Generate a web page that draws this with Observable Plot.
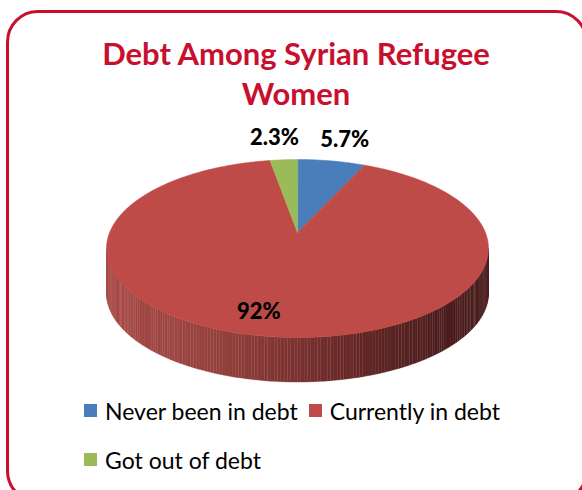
<!DOCTYPE html>
<html>
<head>
<meta charset="utf-8">
<script src="https://cdn.jsdelivr.net/npm/d3@7"></script>
<script src="https://cdn.jsdelivr.net/npm/@observablehq/plot@0.6"></script>
<style>
  html, body { margin: 0; padding: 0; background: #fff; }
  body { width: 582px; height: 490px; position: relative; overflow: hidden; font-family: Lato, "Open Sans", sans-serif; }
  #frame { position: absolute; left: 6px; top: 10px; width: 582px; height: 493px; box-sizing: border-box;
           border: 3px solid #c8102e; border-radius: 32px; }
  #title { position: absolute; left: 0; top: 33px; width: 592px; text-align: center; color: #c8102e;
           font-weight: bold; font-size: 31px; line-height: 40px; }
  #chart { position: absolute; left: 0; top: 120px; }
  #legend { position: absolute; left: 84px; top: 397px; width: 440px; display: flex; flex-wrap: wrap;
            column-gap: 11px; row-gap: 22px; font-size: 23px; color: #000; }
  .item { display: flex; align-items: center; gap: 8px; height: 27px; }
  .sw { width: 13px; height: 13px; display: inline-block; }
</style>
</head>
<body>
<div id="frame"></div>
<div id="title">Debt Among Syrian Refugee<br>Women</div>
<div id="chart"></div>
<div id="legend"></div>
<script>
// ---- data ----
const categories = ["Never been in debt", "Currently in debt", "Got out of debt"];
const shares = [5.7, 92, 2.3];
const labels = ["5.7%", "92%", "2.3%"];
const colors = ["#4a7ebb", "#be4b48", "#9bbb59"];
const legendOrder = ["Never been in debt", "Currently in debt", "Got out of debt"];

// ---- geometry (derived from data via d3.pie) ----
const depth = 0.5;      // side height in ellipse-y units
const apexY = 0.18;     // perspective offset of pie centre
const step = Math.PI / 180;
const arcs = d3.pie().sort(null).value(d => d)(shares);

const faceRows = [];
arcs.forEach((a, i) => {
  faceRows.push({slice: i, X: 0, Y: apexY});
  const n = Math.max(2, Math.ceil((a.endAngle - a.startAngle) / step));
  for (let k = 0; k <= n; k++) {
    const t = a.startAngle + (a.endAngle - a.startAngle) * k / n;
    faceRows.push({slice: i, X: Math.sin(t), Y: Math.cos(t)});
  }
});

const shade = d3.scaleLinear()
  .domain([-1, -0.4, 0.2, 0.7, 1])
  .range(["#a84a47", "#93403c", "#6c2a29", "#4e1e1e", "#4a1c1c"])
  .interpolate(d3.interpolateRgb);

const sideRows = [];
let sid = 0;
arcs.forEach((a, i) => {
  const s = Math.max(a.startAngle, Math.PI / 2), e = Math.min(a.endAngle, 3 * Math.PI / 2);
  if (e <= s) return;
  const n = Math.ceil((e - s) / step);
  for (let k = 0; k < n; k++) {
    const t0 = s + (e - s) * k / n, t1 = s + (e - s) * (k + 1) / n;
    const xm = Math.sin((t0 + t1) / 2);
    const col = i === 1 ? shade(xm) : d3.color(colors[i]).darker(1.2).formatHex();
    [[t0, 0], [t1, 0], [t1, -depth], [t0, -depth]]
      .forEach(([t, d]) => sideRows.push({id: sid, col, X: Math.sin(t), Y: Math.cos(t) + d}));
    sid++;
  }
});

const labelRows = arcs.map((a, i) => {
  const m = (a.startAngle + a.endAngle) / 2;
  const big = (a.endAngle - a.startAngle) > Math.PI;
  const r = big ? 0.72 : 1.24;
  return {text: labels[i], X: Math.sin(m) * r, Y: Math.cos(m) * r, dx: big ? -24 : (Math.sin(m) < 0 ? -6 : 5)};
});

const cx = 297, rx = 191, cy = 128, ry = 89;
const chart = Plot.plot({
  width: 582, height: 280,
  marginTop: 0, marginRight: 0, marginBottom: 0, marginLeft: 0,
  x: {domain: [-1, 1], range: [cx - rx, cx + rx], axis: null},
  y: {domain: [-1, 1], range: [cy + ry, cy - ry], axis: null},
  marks: [
    Plot.line(sideRows, {x: "X", y: "Y", z: "id", fill: "col", stroke: "col", strokeWidth: 0.35, curve: "linear-closed"}),
    Plot.line(faceRows, {x: "X", y: "Y", z: "slice", fill: d => colors[d.slice], stroke: d => colors[d.slice], strokeWidth: 0.5, curve: "linear-closed"}),
    ...labelRows.map(d => Plot.text([d], {x: "X", y: "Y", text: "text", dx: d.dx, fontSize: 22, fontWeight: 900, fill: "#000", fontFamily: "Lato, sans-serif"}))
  ]
});
document.getElementById("chart").appendChild(chart);

// legend
const leg = document.getElementById("legend");
legendOrder.forEach(name => {
  const i = categories.indexOf(name);
  const it = document.createElement("div");
  it.className = "item";
  it.innerHTML = `<span class="sw" style="background:${colors[i]}"></span><span>${name}</span>`;
  leg.appendChild(it);
});
</script>
</body>
</html>
